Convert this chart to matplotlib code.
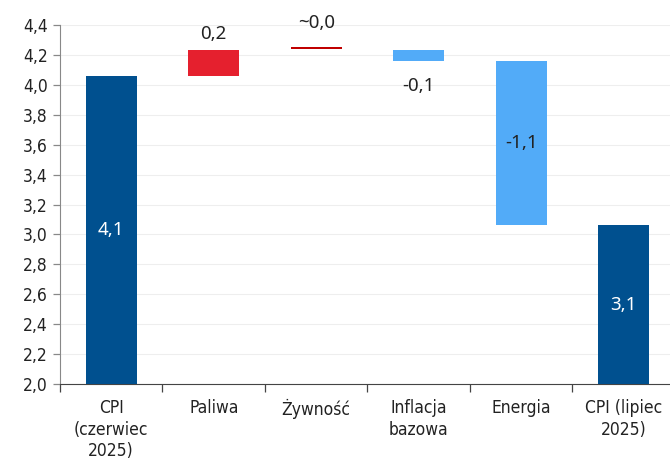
import numpy as np
import matplotlib.pyplot as plt

# dane: rozkład zmiany CPI (pkt proc.)
categories = ['CPI\n(czerwiec\n2025)', 'Paliwa', 'Żywność', 'Inflacja\nbazowa', 'Energia', 'CPI (lipiec\n2025)']
cpi_start = 4.06
changes = [0.17, 0.0, -0.07, -1.10]
cpi_end = 3.06
labels = ['4,1', '0,2', '~0,0', '-0,1', '-1,1', '3,1']

dark_blue = '#00508F'
red = '#E5202E'
dark_red = '#C00000'
light_blue = '#52ABF8'

y_min, y_max = 2.0, 4.4

# poziomy słupków w wykresie kaskadowym
bottoms = [y_min]
heights = [cpi_start - y_min]
level = cpi_start
for c in changes:
    if abs(c) < 0.005:
        # zmiana ~0 - rysowana jako cienka kreska
        bottoms.append(level + 0.008)
        heights.append(0.014)
    else:
        bottoms.append(min(level, level + c))
        heights.append(abs(c))
    level += c
bottoms.append(y_min)
heights.append(cpi_end - y_min)
colors = [dark_blue, red, dark_red, light_blue, light_blue, dark_blue]

tick_font = dict(family=['DejaVu Sans'], stretch='condensed', color='#222222')

fig = plt.figure(figsize=(6.7, 4.59), dpi=100)
ax = fig.add_axes([60 / 670, 1 - 384 / 459, 615 / 670, 359 / 459])

x = np.arange(len(categories))
ax.bar(x, heights, bottom=bottoms, width=0.5, color=colors, zorder=3)

ax.set_xlim(-0.5, len(categories) - 0.5)
ax.set_ylim(y_min, y_max)
yt = np.round(np.arange(2.0, 4.41, 0.2), 1)
ax.set_yticks(yt)
ax.set_yticklabels([f'{v:.1f}'.replace('.', ',') for v in yt], fontsize=12.5, **tick_font)
ax.grid(axis='y', color='#eeeeee', linewidth=0.8, zorder=0)

ax.set_xticks(x)
ax.set_xticklabels(categories, fontsize=12.5, linespacing=1.25, **tick_font)
ax.set_xticks(np.arange(-0.5, len(categories), 1.0), minor=True)
ax.tick_params(axis='x', which='major', length=0, pad=11)
ax.tick_params(axis='x', which='minor', length=6, width=0.9, color='#444444')
ax.tick_params(axis='y', length=5, width=0.9, color='#888888', pad=4)

for s in ['top', 'right']:
    ax.spines[s].set_visible(False)
ax.spines['left'].set_color('#888888')
ax.spines['bottom'].set_color('#444444')

lab_font = dict(fontsize=13.5, family=['Noto Sans', 'DejaVu Sans'])
# słupki CPI - etykiety w środku
ax.text(0, bottoms[0] + heights[0] / 2, labels[0], ha='center', va='center', color='white', **lab_font)
ax.text(5, bottoms[5] + heights[5] / 2, labels[5], ha='center', va='center', color='white', **lab_font)
# zmiany
ax.text(1, bottoms[1] + heights[1] + 0.05, labels[1], ha='center', va='bottom', color='#222222', **lab_font)
ax.text(2, bottoms[2] + heights[2] + 0.1, labels[2], ha='center', va='bottom', color='#222222',
        clip_on=False, **lab_font)
ax.text(3, bottoms[3] - 0.11, labels[3], ha='center', va='top', color='#222222', **lab_font)
ax.text(4, bottoms[4] + heights[4] / 2, labels[4], ha='center', va='center', color='#222222', **lab_font)

fig.savefig('out.png', dpi=100)
